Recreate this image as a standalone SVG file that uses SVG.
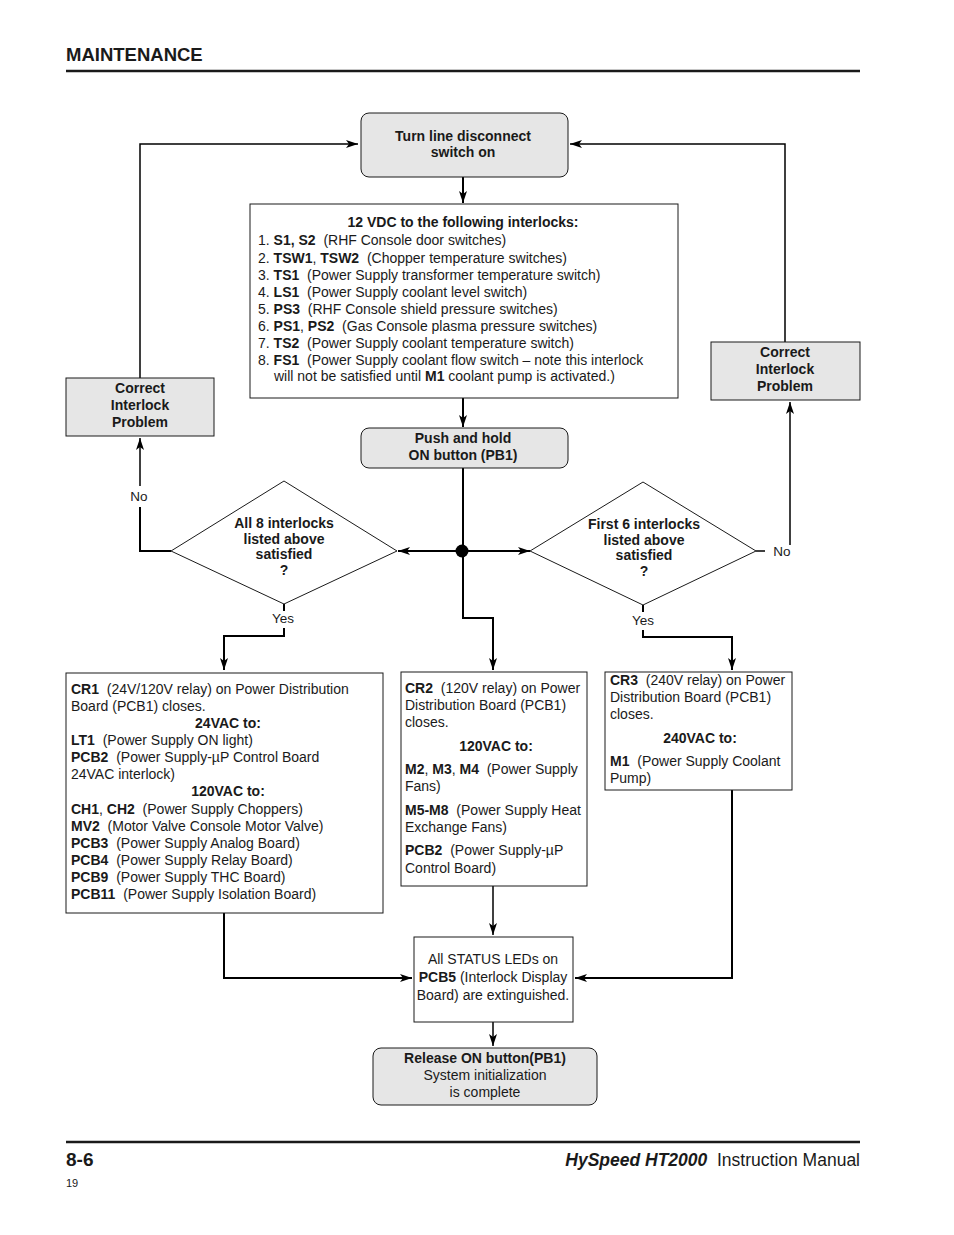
<svg xmlns="http://www.w3.org/2000/svg" width="954" height="1235" viewBox="0 0 954 1235">
<style>
text{font-family:"Liberation Sans",Arial,sans-serif;font-size:14px;fill:#1a1a1a;white-space:pre}
.b{font-weight:bold}
.c{text-anchor:middle}
.box{fill:#fff;stroke:#1a1a1a;stroke-width:1}
.gbox{fill:#e6e6e6;stroke:#1a1a1a;stroke-width:1}
.con{fill:none;stroke:#000;stroke-width:2}
.thin{stroke-width:1.5}
.lbl{font-size:13.5px}
</style>
<defs>
<marker id="ah" viewBox="0 0 12 8" refX="12" refY="4" markerWidth="12" markerHeight="8" markerUnits="userSpaceOnUse" orient="auto">
<path d="M0,0 L12,4 L0,8 L3,4 z" fill="#000"/>
</marker>
</defs>
<rect width="954" height="1235" fill="#fff"/>

<g id="header">
<text x="66" y="61" class="b" style="font-size:18.5px">MAINTENANCE</text>
<line x1="66" y1="71" x2="860" y2="71" stroke="#1a1a1a" stroke-width="2.5"/>
</g>

<g id="connectors">
<path class="con" d="M463,177 V203" marker-end="url(#ah)"/>
<path class="con" d="M463,398 V427" marker-end="url(#ah)"/>
<path class="con" d="M463,468 V618 H493 V670" marker-end="url(#ah)"/>
<path class="con" d="M462,551 H398" marker-end="url(#ah)"/>
<path class="con" d="M462,551 H530" marker-end="url(#ah)"/>
<path class="con" d="M171,551 H140 V507"/>
<path class="con thin" d="M140,486 V438" marker-end="url(#ah)"/>
<path class="con thin" d="M140,378 V144 H358" marker-end="url(#ah)"/>
<path class="con" d="M284,604 V611"/>
<path class="con" d="M284,628 V636 H224 V670" marker-end="url(#ah)"/>
<path class="con thin" d="M756,551 H765"/>
<path class="con thin" d="M790,545 V402" marker-end="url(#ah)"/>
<path class="con thin" d="M785,342 V144 H570" marker-end="url(#ah)"/>
<path class="con" d="M643,605 V612"/>
<path class="con" d="M643,630 V637 H732 V670" marker-end="url(#ah)"/>
<path class="con thin" d="M493,886 V935" marker-end="url(#ah)"/>
<path class="con" d="M224,913 V978 H412" marker-end="url(#ah)"/>
<path class="con" d="M732,790 V978 H575" marker-end="url(#ah)"/>
<path class="con thin" d="M493,1022 V1046" marker-end="url(#ah)"/>
<circle cx="462" cy="551" r="6.5" fill="#000"/>
<text x="139" y="501" class="c lbl">No</text>
<text x="283" y="623" class="c lbl">Yes</text>
<text x="782" y="556" class="c lbl">No</text>
<text x="643" y="625" class="c lbl">Yes</text>
</g>

<g id="start">
<rect class="gbox" x="361" y="113" width="207" height="64" rx="8"/>
<text x="463" y="141" class="b c">Turn line disconnect</text>
<text x="463" y="157" class="b c">switch on</text>
</g>

<g id="interlocks">
<rect class="box" x="250" y="204" width="428" height="194"/>
<text x="463" y="227" class="b c">12 VDC to the following interlocks:</text>
<text x="258" y="245">1. <tspan class="b">S1, S2</tspan>  (RHF Console door switches)</text>
<text x="258" y="263">2. <tspan class="b">TSW1</tspan>, <tspan class="b">TSW2</tspan>  (Chopper temperature switches)</text>
<text x="258" y="280">3. <tspan class="b">TS1</tspan>  (Power Supply transformer temperature switch)</text>
<text x="258" y="297">4. <tspan class="b">LS1</tspan>  (Power Supply coolant level switch)</text>
<text x="258" y="314">5. <tspan class="b">PS3</tspan>  (RHF Console shield pressure switches)</text>
<text x="258" y="331">6. <tspan class="b">PS1</tspan>, <tspan class="b">PS2</tspan>  (Gas Console plasma pressure switches)</text>
<text x="258" y="348">7. <tspan class="b">TS2</tspan>  (Power Supply coolant temperature switch)</text>
<text x="258" y="365">8. <tspan class="b">FS1</tspan>  (Power Supply coolant flow switch – note this interlock</text>
<text x="274" y="381">will not be satisfied until <tspan class="b">M1</tspan> coolant pump is activated.)</text>
</g>

<g id="pushhold">
<rect class="gbox" x="361" y="428" width="207" height="40" rx="8"/>
<text x="463" y="443" class="b c">Push and hold</text>
<text x="463" y="460" class="b c">ON button (PB1)</text>
</g>

<g id="diamond-left">
<polygon class="box" points="284,481 397,551 284,604 171,551"/>
<text x="284" y="528" class="b c">All 8 interlocks</text>
<text x="284" y="544" class="b c">listed above</text>
<text x="284" y="559" class="b c">satisfied</text>
<text x="284" y="575" class="b c">?</text>
</g>

<g id="diamond-right">
<polygon class="box" points="643,482 756,551 643,605 530,551"/>
<text x="644" y="529" class="b c">First 6 interlocks</text>
<text x="644" y="545" class="b c">listed above</text>
<text x="644" y="560" class="b c">satisfied</text>
<text x="644" y="576" class="b c">?</text>
</g>

<g id="correct-left">
<rect class="gbox" x="66" y="378" width="148" height="58"/>
<text x="140" y="393" class="b c">Correct</text>
<text x="140" y="410" class="b c">Interlock</text>
<text x="140" y="427" class="b c">Problem</text>
</g>

<g id="correct-right">
<rect class="gbox" x="711" y="342" width="149" height="58"/>
<text x="785" y="357" class="b c">Correct</text>
<text x="785" y="374" class="b c">Interlock</text>
<text x="785" y="391" class="b c">Problem</text>
</g>

<g id="cr1">
<rect class="box" x="66" y="673" width="317" height="240"/>
<text x="71" y="694"><tspan class="b">CR1</tspan>  (24V/120V relay) on Power Distribution</text>
<text x="71" y="711">Board (PCB1) closes.</text>
<text x="228" y="728" class="b c">24VAC to:</text>
<text x="71" y="745"><tspan class="b">LT1</tspan>  (Power Supply ON light)</text>
<text x="71" y="762"><tspan class="b">PCB2</tspan>  (Power Supply-µP Control Board</text>
<text x="71" y="779">24VAC interlock)</text>
<text x="228" y="796" class="b c">120VAC to:</text>
<text x="71" y="814"><tspan class="b">CH1</tspan>, <tspan class="b">CH2</tspan>  (Power Supply Choppers)</text>
<text x="71" y="831"><tspan class="b">MV2</tspan>  (Motor Valve Console Motor Valve)</text>
<text x="71" y="848"><tspan class="b">PCB3</tspan>  (Power Supply Analog Board)</text>
<text x="71" y="865"><tspan class="b">PCB4</tspan>  (Power Supply Relay Board)</text>
<text x="71" y="882"><tspan class="b">PCB9</tspan>  (Power Supply THC Board)</text>
<text x="71" y="899"><tspan class="b">PCB11</tspan>  (Power Supply Isolation Board)</text>
</g>

<g id="cr2">
<rect class="box" x="401" y="672" width="186" height="214"/>
<text x="405" y="693"><tspan class="b">CR2</tspan>  (120V relay) on Power</text>
<text x="405" y="710">Distribution Board (PCB1)</text>
<text x="405" y="727">closes.</text>
<text x="496" y="751" class="b c">120VAC to:</text>
<text x="405" y="774"><tspan class="b">M2</tspan>, <tspan class="b">M3</tspan>, <tspan class="b">M4</tspan>  (Power Supply</text>
<text x="405" y="791">Fans)</text>
<text x="405" y="815"><tspan class="b">M5-M8</tspan>  (Power Supply Heat</text>
<text x="405" y="832">Exchange Fans)</text>
<text x="405" y="855"><tspan class="b">PCB2</tspan>  (Power Supply-µP</text>
<text x="405" y="873">Control Board)</text>
</g>

<g id="cr3">
<rect class="box" x="605" y="672" width="187" height="118"/>
<text x="610" y="685"><tspan class="b">CR3</tspan>  (240V relay) on Power</text>
<text x="610" y="702">Distribution Board (PCB1)</text>
<text x="610" y="719">closes.</text>
<text x="700" y="743" class="b c">240VAC to:</text>
<text x="610" y="766"><tspan class="b">M1</tspan>  (Power Supply Coolant</text>
<text x="610" y="783">Pump)</text>
</g>

<g id="status">
<rect class="box" x="414" y="937" width="159" height="85"/>
<text x="493" y="964" class="c">All STATUS LEDs on</text>
<text x="493" y="982" class="c"><tspan class="b">PCB5</tspan> (Interlock Display</text>
<text x="493" y="1000" class="c">Board) are extinguished.</text>
</g>

<g id="release">
<rect class="gbox" x="373" y="1048" width="224" height="57" rx="8"/>
<text x="485" y="1063" class="b c">Release ON button(PB1)</text>
<text x="485" y="1080" class="c">System initialization</text>
<text x="485" y="1097" class="c">is complete</text>
</g>

<g id="footer">
<line x1="66" y1="1142" x2="860" y2="1142" stroke="#1a1a1a" stroke-width="2.5"/>
<text x="66" y="1166" class="b" style="font-size:19px">8-6</text>
<text x="860" y="1166" style="font-size:17.5px;text-anchor:end"><tspan style="font-weight:bold;font-style:italic">HySpeed HT2000</tspan>  Instruction Manual</text>
<text x="66" y="1187" style="font-size:11px">19</text>
</g>
</svg>
